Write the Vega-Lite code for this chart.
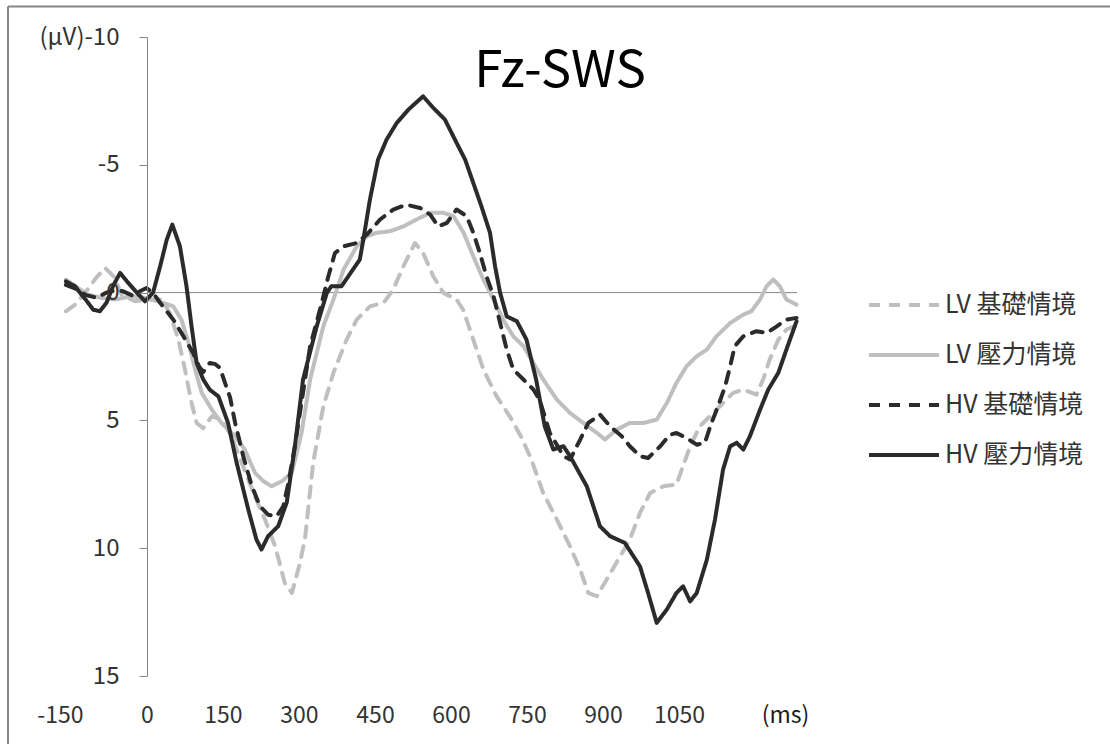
{
  "$schema": "https://vega.github.io/schema/vega-lite/v6.json",
  "width": 732,
  "height": 639,
  "autosize": {"type": "none"},
  "padding": {"left": 65, "top": 37, "right": 313, "bottom": 68},
  "background": "white",
  "config": {"font": "Noto Sans CJK TC", "view": {"stroke": null}},
  "title": {"text": "Fz-SWS", "fontSize": 51, "fontWeight": "normal", "color": "#000000", "anchor": "middle", "dx": 129, "dy": 96, "font": "Noto Sans CJK TC"},
  "datasets": {
    "eeg": [
      {"cond":"LV 基礎情境","t":-160,"v":0.73},{"cond":"LV 基礎情境","t":-142,"v":0.47},{"cond":"LV 基礎情境","t":-122,"v":0.01},{"cond":"LV 基礎情境","t":-103,"v":-0.51},{"cond":"LV 基礎情境","t":-83,"v":-0.97},{"cond":"LV 基礎情境","t":-66,"v":-0.64},{"cond":"LV 基礎情境","t":-50,"v":0.08},{"cond":"LV 基礎情境","t":-24,"v":0.34},{"cond":"LV 基礎情境","t":3,"v":0.27},{"cond":"LV 基礎情境","t":29,"v":0.27},{"cond":"LV 基礎情境","t":45,"v":0.79},{"cond":"LV 基礎情境","t":62,"v":1.84},{"cond":"LV 基礎情境","t":75,"v":3.01},{"cond":"LV 基礎情境","t":88,"v":4.32},{"cond":"LV 基礎情境","t":98,"v":5.1},{"cond":"LV 基礎情境","t":111,"v":5.3},{"cond":"LV 基礎情境","t":128,"v":4.84},{"cond":"LV 基礎情境","t":147,"v":4.97},{"cond":"LV 基礎情境","t":167,"v":5.62},{"cond":"LV 基礎情境","t":187,"v":6.66},{"cond":"LV 基礎情境","t":213,"v":7.97},{"cond":"LV 基礎情境","t":233,"v":8.88},{"cond":"LV 基礎情境","t":253,"v":9.93},{"cond":"LV 基礎情境","t":272,"v":11.36},{"cond":"LV 基礎情境","t":286,"v":11.75},{"cond":"LV 基礎情境","t":302,"v":10.58},{"cond":"LV 基礎情境","t":312,"v":9.6},{"cond":"LV 基礎情境","t":328,"v":6.66},{"cond":"LV 基礎情境","t":348,"v":4.45},{"cond":"LV 基礎情境","t":368,"v":3.14},{"cond":"LV 基礎情境","t":394,"v":1.84},{"cond":"LV 基礎情境","t":414,"v":1.06},{"cond":"LV 基礎情境","t":440,"v":0.54},{"cond":"LV 基礎情境","t":467,"v":0.4},{"cond":"LV 基礎情境","t":486,"v":-0.12},{"cond":"LV 基礎情境","t":506,"v":-1.03},{"cond":"LV 基礎情境","t":529,"v":-1.94},{"cond":"LV 基礎情境","t":545,"v":-1.55},{"cond":"LV 基礎情境","t":565,"v":-0.64},{"cond":"LV 基礎情境","t":585,"v":0.01},{"cond":"LV 基礎情境","t":611,"v":0.27},{"cond":"LV 基礎情境","t":624,"v":0.67},{"cond":"LV 基礎情境","t":644,"v":1.84},{"cond":"LV 基礎情境","t":664,"v":3.01},{"cond":"LV 基礎情境","t":690,"v":4.06},{"cond":"LV 基礎情境","t":716,"v":4.84},{"cond":"LV 基礎情境","t":740,"v":5.7},{"cond":"LV 基礎情境","t":758,"v":6.5},{"cond":"LV 基礎情境","t":782,"v":7.84},{"cond":"LV 基礎情境","t":809,"v":8.88},{"cond":"LV 基礎情境","t":835,"v":9.93},{"cond":"LV 基礎情境","t":855,"v":10.84},{"cond":"LV 基礎情境","t":871,"v":11.75},{"cond":"LV 基礎情境","t":888,"v":11.88},{"cond":"LV 基礎情境","t":907,"v":11.23},{"cond":"LV 基礎情境","t":930,"v":10.45},{"cond":"LV 基礎情境","t":953,"v":9.66},{"cond":"LV 基礎情境","t":973,"v":8.62},{"cond":"LV 基礎情境","t":993,"v":7.84},{"cond":"LV 基礎情境","t":1019,"v":7.58},{"cond":"LV 基礎情境","t":1045,"v":7.51},{"cond":"LV 基礎情境","t":1058,"v":6.79},{"cond":"LV 基礎情境","t":1072,"v":6.01},{"cond":"LV 基礎情境","t":1091,"v":5.23},{"cond":"LV 基礎情境","t":1111,"v":4.84},{"cond":"LV 基礎情境","t":1137,"v":4.32},{"cond":"LV 基礎情境","t":1157,"v":3.92},{"cond":"LV 基礎情境","t":1177,"v":3.8},{"cond":"LV 基礎情境","t":1203,"v":3.99},{"cond":"LV 基礎情境","t":1216,"v":3.4},{"cond":"LV 基礎情境","t":1229,"v":2.62},{"cond":"LV 基礎情境","t":1246,"v":1.84},{"cond":"LV 基礎情境","t":1262,"v":1.45},{"cond":"LV 基礎情境","t":1280,"v":1.3},

      {"cond":"LV 壓力情境","t":-160,"v":-0.51},{"cond":"LV 壓力情境","t":-136,"v":-0.18},{"cond":"LV 壓力情境","t":-116,"v":0.08},{"cond":"LV 壓力情境","t":-89,"v":0.21},{"cond":"LV 壓力情境","t":-63,"v":0.27},{"cond":"LV 壓力情境","t":-30,"v":0.14},{"cond":"LV 壓力情境","t":-4,"v":0.21},{"cond":"LV 壓力情境","t":22,"v":0.34},{"cond":"LV 壓力情境","t":52,"v":0.54},{"cond":"LV 壓力情境","t":68,"v":1.06},{"cond":"LV 壓力情境","t":82,"v":1.97},{"cond":"LV 壓力情境","t":95,"v":3.01},{"cond":"LV 壓力情境","t":108,"v":3.92},{"cond":"LV 壓力情境","t":128,"v":4.58},{"cond":"LV 壓力情境","t":147,"v":5.1},{"cond":"LV 壓力情境","t":174,"v":5.62},{"cond":"LV 壓力情境","t":193,"v":6.14},{"cond":"LV 壓力情境","t":213,"v":7.05},{"cond":"LV 壓力情境","t":230,"v":7.38},{"cond":"LV 壓力情境","t":246,"v":7.58},{"cond":"LV 壓力情境","t":266,"v":7.38},{"cond":"LV 壓力情境","t":286,"v":7.05},{"cond":"LV 壓力情境","t":305,"v":5.5},{"cond":"LV 壓力情境","t":322,"v":3.4},{"cond":"LV 壓力情境","t":348,"v":1.32},{"cond":"LV 壓力情境","t":368,"v":0.27},{"cond":"LV 壓力情境","t":388,"v":-0.9},{"cond":"LV 壓力情境","t":414,"v":-1.81},{"cond":"LV 壓力情境","t":434,"v":-2.2},{"cond":"LV 壓力情境","t":453,"v":-2.34},{"cond":"LV 壓力情境","t":480,"v":-2.4},{"cond":"LV 壓力情境","t":506,"v":-2.59},{"cond":"LV 壓力情境","t":532,"v":-2.86},{"cond":"LV 壓力情境","t":559,"v":-3.12},{"cond":"LV 壓力情境","t":585,"v":-3.12},{"cond":"LV 壓力情境","t":605,"v":-2.99},{"cond":"LV 壓力情境","t":625,"v":-2.34},{"cond":"LV 壓力情境","t":644,"v":-1.42},{"cond":"LV 壓力情境","t":664,"v":-0.51},{"cond":"LV 壓力情境","t":684,"v":0.27},{"cond":"LV 壓力情境","t":703,"v":1.06},{"cond":"LV 壓力情境","t":723,"v":1.71},{"cond":"LV 壓力情境","t":743,"v":2.1},{"cond":"LV 壓力情境","t":758,"v":2.6},{"cond":"LV 壓力情境","t":782,"v":3.4},{"cond":"LV 壓力情境","t":809,"v":4.19},{"cond":"LV 壓力情境","t":835,"v":4.71},{"cond":"LV 壓力情境","t":861,"v":5.1},{"cond":"LV 壓力情境","t":888,"v":5.49},{"cond":"LV 壓力情境","t":904,"v":5.75},{"cond":"LV 壓力情境","t":927,"v":5.36},{"cond":"LV 壓力情境","t":953,"v":5.1},{"cond":"LV 壓力情境","t":980,"v":5.1},{"cond":"LV 壓力情境","t":1006,"v":4.97},{"cond":"LV 壓力情境","t":1026,"v":4.32},{"cond":"LV 壓力情境","t":1045,"v":3.53},{"cond":"LV 壓力情境","t":1065,"v":2.88},{"cond":"LV 壓力情境","t":1085,"v":2.49},{"cond":"LV 壓力情境","t":1105,"v":2.23},{"cond":"LV 壓力情境","t":1124,"v":1.71},{"cond":"LV 壓力情境","t":1151,"v":1.19},{"cond":"LV 壓力情境","t":1177,"v":0.86},{"cond":"LV 壓力情境","t":1193,"v":0.73},{"cond":"LV 壓力情境","t":1210,"v":0.27},{"cond":"LV 壓力情境","t":1223,"v":-0.25},{"cond":"LV 壓力情境","t":1236,"v":-0.51},{"cond":"LV 壓力情境","t":1249,"v":-0.25},{"cond":"LV 壓力情境","t":1262,"v":0.27},{"cond":"LV 壓力情境","t":1282,"v":0.47},

      {"cond":"HV 基礎情境","t":-160,"v":-0.3},{"cond":"HV 基礎情境","t":-140,"v":-0.15},{"cond":"HV 基礎情境","t":-120,"v":0.1},{"cond":"HV 基礎情境","t":-100,"v":0.2},{"cond":"HV 基礎情境","t":-80,"v":0.0},{"cond":"HV 基礎情境","t":-60,"v":-0.1},{"cond":"HV 基礎情境","t":-47,"v":-0.05},{"cond":"HV 基礎情境","t":-30,"v":0.1},{"cond":"HV 基礎情境","t":-14,"v":-0.05},{"cond":"HV 基礎情境","t":-1,"v":-0.18},{"cond":"HV 基礎情境","t":12,"v":0.01},{"cond":"HV 基礎情境","t":26,"v":0.4},{"cond":"HV 基礎情境","t":52,"v":1.06},{"cond":"HV 基礎情境","t":72,"v":1.71},{"cond":"HV 基礎情境","t":91,"v":2.36},{"cond":"HV 基礎情境","t":103,"v":2.9},{"cond":"HV 基礎情境","t":111,"v":3.1},{"cond":"HV 基礎情境","t":124,"v":2.75},{"cond":"HV 基礎情境","t":135,"v":2.8},{"cond":"HV 基礎情境","t":144,"v":2.95},{"cond":"HV 基礎情境","t":154,"v":3.53},{"cond":"HV 基礎情境","t":164,"v":4.1},{"cond":"HV 基礎情境","t":174,"v":5.1},{"cond":"HV 基礎情境","t":190,"v":6.4},{"cond":"HV 基礎情境","t":207,"v":7.58},{"cond":"HV 基礎情境","t":223,"v":8.36},{"cond":"HV 基礎情境","t":239,"v":8.69},{"cond":"HV 基礎情境","t":256,"v":8.75},{"cond":"HV 基礎情境","t":269,"v":8.36},{"cond":"HV 基礎情境","t":279,"v":7.45},{"cond":"HV 基礎情境","t":292,"v":6.0},{"cond":"HV 基礎情境","t":305,"v":4.3},{"cond":"HV 基礎情境","t":322,"v":2.1},{"cond":"HV 基礎情境","t":345,"v":0.4},{"cond":"HV 基礎情境","t":358,"v":-0.64},{"cond":"HV 基礎情境","t":371,"v":-1.55},{"cond":"HV 基礎情境","t":388,"v":-1.81},{"cond":"HV 基礎情境","t":414,"v":-1.94},{"cond":"HV 基礎情境","t":434,"v":-2.27},{"cond":"HV 基礎情境","t":460,"v":-2.86},{"cond":"HV 基礎情境","t":486,"v":-3.25},{"cond":"HV 基礎情境","t":512,"v":-3.44},{"cond":"HV 基礎情境","t":539,"v":-3.31},{"cond":"HV 基礎情境","t":559,"v":-3.05},{"cond":"HV 基礎情境","t":575,"v":-2.59},{"cond":"HV 基礎情境","t":592,"v":-2.73},{"cond":"HV 基礎情境","t":611,"v":-3.25},{"cond":"HV 基礎情境","t":631,"v":-2.99},{"cond":"HV 基礎情境","t":644,"v":-2.34},{"cond":"HV 基礎情境","t":657,"v":-1.55},{"cond":"HV 基礎情境","t":670,"v":-0.64},{"cond":"HV 基礎情境","t":684,"v":0.14},{"cond":"HV 基礎情境","t":697,"v":1.19},{"cond":"HV 基礎情境","t":710,"v":2.23},{"cond":"HV 基礎情境","t":723,"v":3.01},{"cond":"HV 基礎情境","t":743,"v":3.4},{"cond":"HV 基礎情境","t":763,"v":3.8},{"cond":"HV 基礎情境","t":775,"v":4.2},{"cond":"HV 基礎情境","t":795,"v":5.49},{"cond":"HV 基礎情境","t":822,"v":6.4},{"cond":"HV 基礎情境","t":835,"v":6.53},{"cond":"HV 基礎情境","t":855,"v":5.75},{"cond":"HV 基礎情境","t":871,"v":5.1},{"cond":"HV 基礎情境","t":894,"v":4.77},{"cond":"HV 基礎情境","t":914,"v":5.23},{"cond":"HV 基礎情境","t":937,"v":5.62},{"cond":"HV 基礎情境","t":953,"v":6.01},{"cond":"HV 基礎情境","t":973,"v":6.4},{"cond":"HV 基礎情境","t":989,"v":6.47},{"cond":"HV 基礎情境","t":1013,"v":6.01},{"cond":"HV 基礎情境","t":1032,"v":5.56},{"cond":"HV 基礎情境","t":1045,"v":5.49},{"cond":"HV 基礎情境","t":1065,"v":5.69},{"cond":"HV 基礎情境","t":1085,"v":5.95},{"cond":"HV 基礎情境","t":1101,"v":5.88},{"cond":"HV 基礎情境","t":1114,"v":5.1},{"cond":"HV 基礎情境","t":1127,"v":4.45},{"cond":"HV 基礎情境","t":1141,"v":3.67},{"cond":"HV 基礎情境","t":1151,"v":2.88},{"cond":"HV 基礎情境","t":1160,"v":2.1},{"cond":"HV 基礎情境","t":1177,"v":1.71},{"cond":"HV 基礎情境","t":1203,"v":1.51},{"cond":"HV 基礎情境","t":1223,"v":1.58},{"cond":"HV 基礎情境","t":1243,"v":1.32},{"cond":"HV 基礎情境","t":1262,"v":1.06},{"cond":"HV 基礎情境","t":1282,"v":0.99},

      {"cond":"HV 壓力情境","t":-160,"v":-0.44},{"cond":"HV 壓力情境","t":-142,"v":-0.25},{"cond":"HV 壓力情境","t":-132,"v":0.01},{"cond":"HV 壓力情境","t":-120,"v":0.3},{"cond":"HV 壓力情境","t":-106,"v":0.67},{"cond":"HV 壓力情境","t":-93,"v":0.73},{"cond":"HV 壓力情境","t":-80,"v":0.4},{"cond":"HV 壓力情境","t":-66,"v":-0.3},{"cond":"HV 壓力情境","t":-53,"v":-0.77},{"cond":"HV 壓力情境","t":-40,"v":-0.45},{"cond":"HV 壓力情境","t":-20,"v":0.0},{"cond":"HV 壓力情境","t":-4,"v":0.34},{"cond":"HV 壓力情境","t":12,"v":0.0},{"cond":"HV 壓力情境","t":26,"v":-1.03},{"cond":"HV 壓力情境","t":39,"v":-2.07},{"cond":"HV 壓力情境","t":50,"v":-2.66},{"cond":"HV 壓力情境","t":65,"v":-1.81},{"cond":"HV 壓力情境","t":78,"v":-0.25},{"cond":"HV 壓力情境","t":88,"v":1.32},{"cond":"HV 壓力情境","t":98,"v":2.75},{"cond":"HV 壓力情境","t":111,"v":3.4},{"cond":"HV 壓力情境","t":124,"v":3.8},{"cond":"HV 壓力情境","t":141,"v":4.06},{"cond":"HV 壓力情境","t":160,"v":5.1},{"cond":"HV 壓力情境","t":177,"v":6.66},{"cond":"HV 壓力情境","t":200,"v":8.49},{"cond":"HV 壓力情境","t":216,"v":9.66},{"cond":"HV 壓力情境","t":226,"v":10.05},{"cond":"HV 壓力情境","t":239,"v":9.53},{"cond":"HV 壓力情境","t":259,"v":9.14},{"cond":"HV 壓力情境","t":276,"v":8.2},{"cond":"HV 壓力情境","t":292,"v":6.0},{"cond":"HV 壓力情境","t":308,"v":3.4},{"cond":"HV 壓力情境","t":335,"v":1.32},{"cond":"HV 壓力情境","t":355,"v":0.01},{"cond":"HV 壓力情境","t":364,"v":-0.25},{"cond":"HV 壓力情境","t":384,"v":-0.25},{"cond":"HV 壓力情境","t":404,"v":-0.83},{"cond":"HV 壓力情境","t":420,"v":-1.29},{"cond":"HV 壓力情境","t":427,"v":-2.07},{"cond":"HV 壓力情境","t":440,"v":-3.64},{"cond":"HV 壓力情境","t":456,"v":-5.2},{"cond":"HV 壓力情境","t":473,"v":-5.99},{"cond":"HV 壓力情境","t":493,"v":-6.64},{"cond":"HV 壓力情境","t":516,"v":-7.16},{"cond":"HV 壓力情境","t":545,"v":-7.68},{"cond":"HV 壓力情境","t":565,"v":-7.23},{"cond":"HV 壓力情境","t":588,"v":-6.77},{"cond":"HV 壓力情境","t":611,"v":-5.86},{"cond":"HV 壓力情境","t":628,"v":-5.2},{"cond":"HV 壓力情境","t":644,"v":-4.29},{"cond":"HV 壓力情境","t":660,"v":-3.38},{"cond":"HV 壓力情境","t":677,"v":-2.34},{"cond":"HV 壓力情境","t":687,"v":-1.03},{"cond":"HV 壓力情境","t":697,"v":0.01},{"cond":"HV 壓力情境","t":710,"v":0.93},{"cond":"HV 壓力情境","t":730,"v":1.12},{"cond":"HV 壓力情境","t":749,"v":1.84},{"cond":"HV 壓力情境","t":768,"v":3.4},{"cond":"HV 壓力情境","t":785,"v":5.23},{"cond":"HV 壓力情境","t":802,"v":6.14},{"cond":"HV 壓力情境","t":822,"v":6.01},{"cond":"HV 壓力情境","t":835,"v":6.4},{"cond":"HV 壓力情境","t":868,"v":7.58},{"cond":"HV 壓力情境","t":894,"v":9.14},{"cond":"HV 壓力情境","t":914,"v":9.53},{"cond":"HV 壓力情境","t":943,"v":9.79},{"cond":"HV 壓力情境","t":973,"v":10.71},{"cond":"HV 壓力情境","t":989,"v":11.75},{"cond":"HV 壓力情境","t":1006,"v":12.92},{"cond":"HV 壓力情境","t":1026,"v":12.4},{"cond":"HV 壓力情境","t":1045,"v":11.75},{"cond":"HV 壓力情境","t":1058,"v":11.49},{"cond":"HV 壓力情境","t":1072,"v":12.08},{"cond":"HV 壓力情境","t":1085,"v":11.75},{"cond":"HV 壓力情境","t":1105,"v":10.45},{"cond":"HV 壓力情境","t":1121,"v":8.88},{"cond":"HV 壓力情境","t":1137,"v":6.92},{"cond":"HV 壓力情境","t":1151,"v":6.01},{"cond":"HV 壓力情境","t":1164,"v":5.88},{"cond":"HV 壓力情境","t":1177,"v":6.14},{"cond":"HV 壓力情境","t":1190,"v":5.62},{"cond":"HV 壓力情境","t":1210,"v":4.58},{"cond":"HV 壓力情境","t":1226,"v":3.8},{"cond":"HV 壓力情境","t":1246,"v":3.14},{"cond":"HV 壓力情境","t":1262,"v":2.23},{"cond":"HV 壓力情境","t":1282,"v":1.12}
    ]
  },
  "layer": [
    {
      "data": {"values": [{}]},
      "mark": {"type": "rule", "stroke": "#868686", "strokeWidth": 2},
      "encoding": {
        "x": {"datum": -274.3, "type": "quantitative", "scale": {"domain": [-161.8, 1282.9], "nice": false, "zero": false}},
        "x2": {"datum": 1901},
        "y": {"datum": -11.19, "type": "quantitative", "scale": {"domain": [-10, 15], "reverse": true, "nice": false, "zero": false}}
      }
    },
    {
      "data": {"values": [{}]},
      "mark": {"type": "rule", "stroke": "#868686", "strokeWidth": 2},
      "encoding": {
        "x": {"datum": -274.3, "type": "quantitative", "scale": {"domain": [-161.8, 1282.9], "nice": false, "zero": false}},
        "y": {"datum": -11.19, "type": "quantitative", "scale": {"domain": [-10, 15], "reverse": true, "nice": false, "zero": false}},
        "y2": {"datum": 17.7}
      }
    },
    {
      "data": {"values": [{}]},
      "mark": {"type": "rule", "stroke": "#868686", "strokeWidth": 1},
      "encoding": {
        "x": {"datum": 0, "type": "quantitative", "scale": {"domain": [-161.8, 1282.9], "nice": false, "zero": false}},
        "x2": {"datum": 1282.9},
        "y": {"datum": 0, "type": "quantitative", "scale": {"domain": [-10, 15], "reverse": true, "nice": false, "zero": false}}
      }
    },
    {
      "data": {"name": "eeg"},
      "mark": {"type": "line", "strokeWidth": 4, "strokeCap": "round", "strokeJoin": "round"},
      "encoding": {
        "x": {
          "field": "t", "type": "quantitative",
          "scale": {"domain": [-161.8, 1282.9], "nice": false, "zero": false},
          "axis": {
            "orient": "bottom", "values": [-150, 0, 150, 300, 450, 600, 750, 900, 1050],
            "title": "(ms)", "domain": false, "ticks": false, "tickSize": 0, "grid": false,
            "labelFontSize": 23, "labelColor": "#333333", "labelFont": "Noto Sans CJK TC",
            "labelPadding": 39, "labelBaseline": "middle", "labelFlush": false, "labelOverlap": false,
            "labelExpr": "'' + datum.value",
            "labelOffset": {"condition": {"test": "datum.value == -150", "value": -11}, "value": 0},
            "titleX": 720, "titleY": 39, "titleAlign": "center", "titleBaseline": "middle",
            "titleFontSize": 23, "titleFontWeight": "normal", "titleColor": "#1a1a1a", "titleFont": "Noto Sans CJK TC"
          }
        },
        "y": {
          "field": "v", "type": "quantitative",
          "scale": {"domain": [-10, 15], "reverse": true, "nice": false, "zero": false},
          "axis": {
            "orient": "left", "offset": -82, "zindex": 1, "values": [-10, -5, 0, 5, 10, 15], "title": null, "grid": false,
            "domainColor": "#868686", "tickColor": "#868686", "tickSize": 8,
            "labelFontSize": 24, "labelColor": "#333333", "labelFont": "Noto Sans CJK TC", "labelPadding": 20,
            "labelFlush": false, "labelOverlap": false,
            "labelExpr": "datum.value == -10 ? '(µV)-10' : '' + datum.value"
          }
        },
        "color": {
          "field": "cond", "type": "nominal",
          "scale": {"domain": ["LV 基礎情境", "LV 壓力情境", "HV 基礎情境", "HV 壓力情境"], "range": ["#bfbfbf", "#bfbfbf", "#2b2b2b", "#2b2b2b"]},
          "legend": {
            "title": null, "orient": "none", "legendX": 802, "legendY": 231, "padding": 0,
            "symbolType": "stroke", "symbolSize": 4900, "symbolStrokeWidth": 4,
            "labelFontSize": 25, "labelColor": "#333333", "labelFont": "Noto Sans CJK TC", "labelOffset": 4,
            "rowPadding": -18.7
          }
        },
        "strokeDash": {
          "field": "cond", "type": "nominal",
          "scale": {"domain": ["LV 基礎情境", "LV 壓力情境", "HV 基礎情境", "HV 壓力情境"], "range": [[11, 9], [1, 0], [11, 9], [1, 0]]},
          "legend": {
            "title": null, "orient": "none", "legendX": 802, "legendY": 231, "padding": 0,
            "symbolType": "stroke", "symbolSize": 4900, "symbolStrokeWidth": 4,
            "labelFontSize": 25, "labelColor": "#333333", "labelFont": "Noto Sans CJK TC", "labelOffset": 4,
            "rowPadding": -18.7
          }
        }
      }
    }
  ]
}
